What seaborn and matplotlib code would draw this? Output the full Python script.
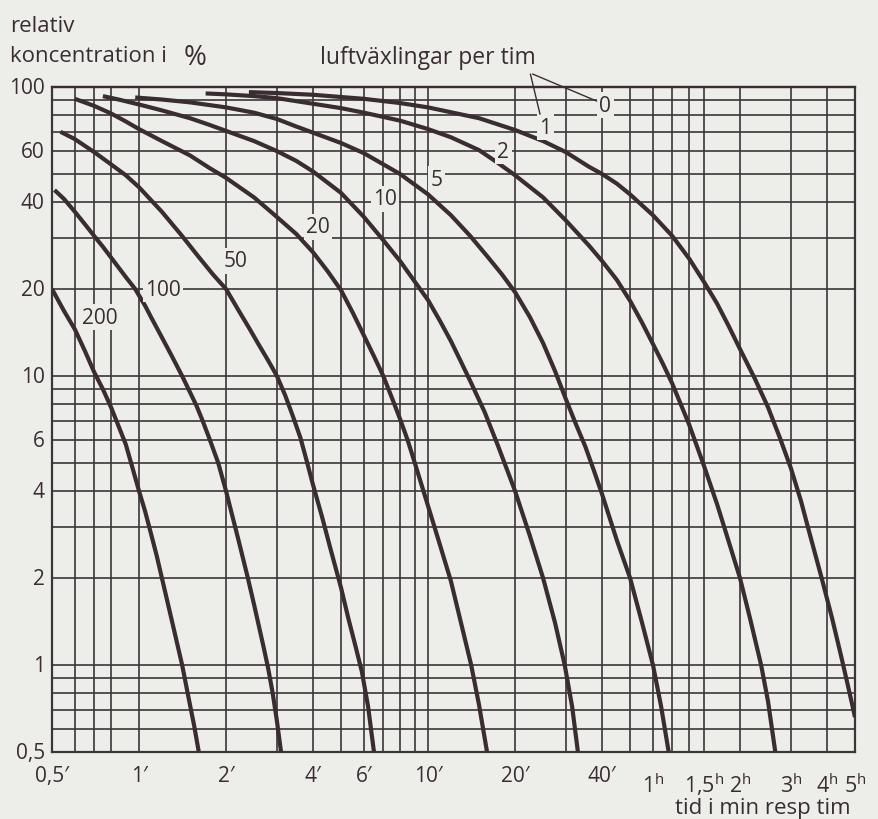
import matplotlib
matplotlib.use("Agg")
import matplotlib.pyplot as plt
import pandas as pd
import seaborn as sns

# relativ koncentration (%) mot tid (min), en kurva per luftväxlingstal
t_200 = [0.5, 0.55, 0.6, 0.65, 0.7, 0.75, 0.8, 0.85, 0.9, 0.95, 1.0, 1.05, 1.1,
         1.15, 1.2, 1.3, 1.41, 1.5, 1.55, 1.61]
c_200 = [20, 16.8, 14.5, 12.2, 10.3, 9.0, 7.8, 6.7, 5.8, 4.8, 4.0, 3.4, 2.85,
         2.4, 2.0, 1.42, 1.0, 0.73, 0.62, 0.5]

t_100 = [0.51, 0.55, 0.6, 0.65, 0.7, 0.75, 0.81, 0.9, 0.97, 1.05, 1.1, 1.2, 1.3,
         1.41, 1.5, 1.58, 1.66, 1.76, 1.88, 2.0, 2.1, 2.2, 2.38, 2.5, 2.6, 2.7,
         2.8, 2.9, 3.0, 3.1]
c_100 = [44, 41, 37, 33.5, 30.5, 28, 25.3, 22, 20, 17.5, 16, 13.6, 11.7,
         10, 8.8, 7.9, 7.0, 6.0, 5.0, 4.0, 3.3, 2.75, 2.0, 1.62, 1.36, 1.15,
         0.97, 0.8, 0.64, 0.5]

t_50 = [0.535, 0.6, 0.7, 0.8, 0.9, 1.0, 1.2, 1.41, 1.6, 1.8, 2.0, 2.2, 2.4, 2.6,
        2.8, 3.0, 3.2, 3.4, 3.62, 3.8, 4.0, 4.3, 4.56, 4.8, 5.0, 5.3, 5.6, 5.9,
        6.2, 6.5]
c_50 = [70, 66, 59.5, 54, 49.5, 45, 37, 30.5, 26, 22.5, 20, 17, 14.7, 12.8,
        11.3, 10, 8.6, 7.3, 6.1, 5.1, 4.2, 3.25, 2.6, 2.15, 1.85, 1.45, 1.17, 0.95,
        0.72, 0.5]

t_20 = [0.6, 0.7, 0.8, 0.9, 1.0, 1.2, 1.5, 1.75, 2.0, 2.5, 3.0, 3.5, 4.0, 4.5,
        5.0, 5.5, 6.0, 6.5, 7.0, 7.5, 8.0, 8.5, 9.0, 10, 11, 12, 13, 14.1, 15, 16]
c_20 = [91, 86, 81, 76, 71.5, 65, 58, 52.5, 48.5, 41.5, 35.5, 31, 26.8, 23,
        19.8, 16.5, 13.8, 11.7, 10, 8.4, 7.1, 6.0, 5.0, 3.55, 2.6, 1.95, 1.4, 1.0,
        0.73, 0.5]

t_10 = [0.75, 0.85, 1.0, 1.2, 1.5, 1.75, 2.0, 2.5, 3.0, 3.5, 4.0, 5.0, 6.0, 7.0,
        8.0, 9.0, 10, 11, 12, 13, 14, 15.7, 17.5, 20, 22.5, 25, 27.5, 29.7, 31.5, 33]
c_10 = [93, 90.5, 87, 83, 78, 74, 70.5, 65, 60, 55.5, 51, 43, 35.5, 29.5,
        25, 21.2, 18.3, 15.5, 13.2, 11.2, 9.6, 7.5, 5.7, 4.0, 2.8, 2.0, 1.4, 1.0,
        0.72, 0.5]

t_5 = [0.97, 1.2, 1.5, 2.0, 2.5, 3.0, 3.5, 4.0, 5.0, 6.0, 7.0, 8.0, 10, 12, 14,
       16, 18, 20, 22.5, 25, 27.5, 30, 32.5, 35, 37.5, 40, 45, 50, 55, 60, 64, 68]
c_5 = [92, 90.5, 88.5, 85, 81.5, 77.5, 73, 69.5, 64, 59, 54, 50, 42.5, 36, 30.5,
       26, 22.5, 19.5, 16, 13, 10.4, 8.3, 6.8, 5.7, 4.7, 3.9, 2.7, 2.0, 1.4, 1.0,
       0.72, 0.5]

t_2 = [1.7, 2.0, 2.5, 3.0, 4.0, 5.0, 6.0, 8.0, 10, 12, 15, 17.5, 20, 25, 30, 36,
       40, 45, 50, 55, 60, 65, 70, 80, 90, 100, 110, 120, 130, 142, 150, 159]
c_2 = [95, 94.3, 93, 91.5, 87.5, 84.5, 81.5, 76.5, 71.5, 67, 60.5, 54.5, 49.5,
       41.5, 34.5, 28.3, 25, 21.5, 18.2, 15.3, 12.9, 11, 9.4, 6.8, 4.9, 3.6, 2.65,
       2.0, 1.45, 1.0, 0.75, 0.5]

t_1 = [2.4, 3, 4, 6, 8, 10, 15, 20, 25, 30, 36, 40, 45, 50, 60, 70, 80, 90, 100,
       110, 120, 135, 150, 165, 180, 195, 210, 230, 250, 270, 285, 300]
c_1 = [96, 95.3, 94, 91, 88, 85, 78, 71, 65, 59.5, 53, 50, 46.3, 42.5, 36, 30.5,
       25.5, 21.2, 17.8, 14.8, 12.4, 9.8, 7.8, 6.1, 4.8, 3.7, 2.8, 2.0, 1.45, 1.05,
       0.83, 0.66]

t_0 = [0.5, 300]
c_0 = [100, 100]

curves = {"200": (t_200, c_200), "100": (t_100, c_100), "50": (t_50, c_50),
          "20": (t_20, c_20), "10": (t_10, c_10), "5": (t_5, c_5),
          "2": (t_2, c_2), "1": (t_1, c_1)}

# gridlines of the printed log paper
x_grid = [0.5, 0.6, 0.7, 0.8, 1, 2, 3, 4, 5, 6, 7, 8, 9, 10, 20, 30, 40, 50,
          60, 70, 80, 90, 120, 180, 240, 300]
y_grid = [0.5, 0.6, 0.7, 0.8, 0.9, 1, 2, 3, 4, 5, 6, 7, 8, 9, 10, 20, 30, 40,
          50, 60, 70, 80, 90, 100]

x_min_ticks = [0.5, 1, 2, 4, 6, 10, 20, 40]
x_min_labels = ["0,5′", "1′", "2′", "4′", "6′", "10′", "20′", "40′"]
x_h_ticks = [60, 90, 120, 180, 240, 300]
x_h_labels = ["1", "1{,}5", "2", "3", "4", "5"]
y_ticks = [0.5, 1, 2, 4, 6, 10, 20, 40, 60, 100]
y_labels = ["0,5", "1", "2", "4", "6", "10", "20", "40", "60", "100"]

# where the numbers of air changes are written (min, %)
lab_names = ["0", "1", "2", "5", "10", "20", "50", "100", "200"]
lab_x = [41, 25.4, 18.2, 10.7, 7.1, 4.16, 2.15, 1.21, 0.73]
lab_y = [86.6, 72.7, 60, 48, 41, 32.8, 25, 20, 16]

BG = "#edeeea"
INK = "#3a2d31"
GRID = "#3b3638"

sns.set_theme(style="white")
plt.rcParams["font.family"] = ["Open Sans", "DejaVu Sans"]
plt.rcParams["mathtext.fontset"] = "custom"
plt.rcParams["mathtext.rm"] = "Open Sans"

rows = []
for n, (ts, cs) in curves.items():
    for t, c in zip(ts, cs):
        rows.append({"n": n, "t": t, "c": c})
df = pd.DataFrame(rows)
df0 = pd.DataFrame({"n": "0", "t": t_0, "c": c_0})

fig = plt.figure(figsize=(8.79, 8.2), dpi=100, facecolor=BG)
ax = fig.add_axes([52 / 879, 1 - 753 / 820, 803 / 879, 665 / 820])
ax.set_facecolor(BG)
ax.set_xscale("log")
ax.set_yscale("log")
ax.set_xlim(0.5, 300)
ax.set_ylim(0.5, 100)

ax.set_xticks([])
ax.set_yticks([])
ax.set_xticks(x_grid, minor=True)
ax.set_yticks(y_grid, minor=True)
ax.xaxis.set_minor_formatter(plt.NullFormatter())
ax.yaxis.set_minor_formatter(plt.NullFormatter())
ax.tick_params(which="both", length=0)
ax.grid(True, which="minor", color=GRID, lw=1.2)
for s in ax.spines.values():
    s.set_color(GRID)
    s.set_linewidth(1.6)

sns.lineplot(data=df, x="t", y="c", hue="n", palette=[INK] * len(curves),
             estimator=None, sort=False, legend=False, lw=3.0, ax=ax,
             solid_capstyle="butt", solid_joinstyle="round", zorder=3)
sns.lineplot(data=df0, x="t", y="c", color=INK, estimator=None, sort=False,
             legend=False, lw=1.6, ax=ax, clip_on=False, zorder=3)
ax.set_xlabel("")
ax.set_ylabel("")

trans_x = ax.get_xaxis_transform()
trans_y = ax.get_yaxis_transform()
for t, s in zip(x_min_ticks, x_min_labels):
    ax.text(t, -0.044, s, transform=trans_x, ha="center", va="baseline",
            fontsize=15, color=INK)
for t, s in zip(x_h_ticks, x_h_labels):
    ax.text(t, -0.060, r"$\mathrm{" + s + r"}^{\mathrm{h}}$", transform=trans_x,
            ha="center", va="baseline", fontsize=15.5, color=INK)
for v, s in zip(y_ticks, y_labels):
    ax.text(-0.009, v, s, transform=trans_y, ha="right", va="center",
            fontsize=15, color=INK)

for s, x, y in zip(lab_names, lab_x, lab_y):
    ax.text(x, y, s, ha="center", va="center", fontsize=15, color=INK, zorder=5,
            bbox=dict(boxstyle="square,pad=0.12", fc=BG, ec="none"))

# leader lines from the legend text to the "0" and "1" labels
ax.plot([23.0, 38.3], [110.9, 89.4], color=INK, lw=1.0, clip_on=False, zorder=6)
ax.plot([22.6, 24.4], [110.9, 80.5], color=INK, lw=1.0, clip_on=False, zorder=6)

fig.text(10 / 879, 1 - 27 / 820, "relativ", ha="left", va="center",
         fontsize=16, color=INK)
fig.text(10 / 879, 1 - 57 / 820, "koncentration i", ha="left", va="center",
         fontsize=16, color=INK)
fig.text(184 / 879, 1 - 58 / 820, "%", ha="left", va="center",
         fontsize=20, color=INK)
fig.text(320 / 879, 1 - 58 / 820, "luftväxlingar per tim", ha="left",
         va="center", fontsize=16.5, color=INK)
fig.text(763 / 879, 1 - 809 / 820, "tid i min resp tim", ha="center",
         va="center", fontsize=16, color=INK)

fig.savefig("out.png", dpi=100, facecolor=BG)
